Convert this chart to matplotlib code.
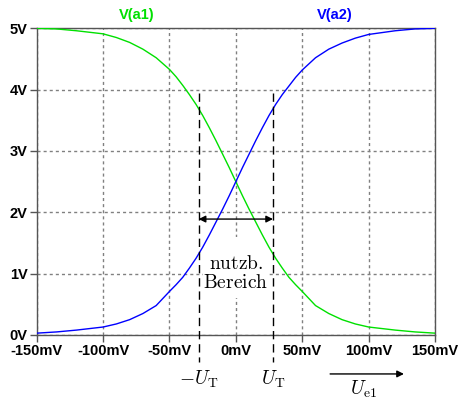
import matplotlib.pyplot as plt
import numpy as np

plt.rcParams['mathtext.fontset'] = 'cm'
plt.rcParams['lines.scale_dashes'] = False

# input voltage (mV) and the two output voltages (V)
u_e1 = [-150, -135, -120, -100, -90, -80, -70, -60, -50, -45, -40, -35, -30, -25,
        -20, -15, -10, -5, 0, 5, 10, 15, 20, 25, 30, 35, 40, 45, 50, 60, 70, 80,
        90, 100, 120, 135, 150]
v_a1 = [5.00, 4.99, 4.96, 4.91, 4.85, 4.77, 4.66, 4.52, 4.33, 4.21, 4.07, 3.92, 3.76, 3.58,
        3.38, 3.17, 2.95, 2.73, 2.50, 2.27, 2.05, 1.84, 1.63, 1.43, 1.25, 1.09, 0.94, 0.82,
        0.71, 0.48, 0.35, 0.25, 0.18, 0.13, 0.08, 0.05, 0.03]
v_a2 = [0.03, 0.05, 0.08, 0.13, 0.18, 0.25, 0.35, 0.48, 0.71, 0.82, 0.94, 1.09, 1.25, 1.43,
        1.63, 1.84, 2.05, 2.27, 2.50, 2.73, 2.95, 3.17, 3.38, 3.58, 3.76, 3.92, 4.06, 4.20,
        4.32, 4.52, 4.66, 4.76, 4.84, 4.90, 4.96, 4.99, 5.00]

x_ticks = [-150, -100, -50, 0, 50, 100, 150]
x_labels = ['-150mV', '-100mV', '-50mV', '0mV', '50mV', '100mV', '150mV']
y_ticks = [0, 1, 2, 3, 4, 5]
y_labels = ['0V', '1V', '2V', '3V', '4V', '5V']

u_t = 28  # mV, edge of the useful range

fig = plt.figure(figsize=(4.62, 4.01), dpi=100)
ax = fig.add_axes([0.0794, 0.1646, 0.8622, 0.7648])

ax.plot(u_e1, v_a1, color='#00e000', lw=1, zorder=3)
ax.plot(u_e1, v_a2, color='#0000ff', lw=1, zorder=3)

ax.set_xlim(-150, 150)
ax.set_ylim(0, 5)
ax.set_xticks(x_ticks, x_labels)
ax.set_yticks(y_ticks, y_labels)
ax.grid(True, color='#808080', lw=1, linestyle=(0, (2.2, 2.2)))
ax.tick_params(direction='out', length=5, width=1, color='#555555', pad=1.5)
for lab in ax.get_xticklabels() + ax.get_yticklabels():
    lab.set_family('Liberation Sans')
    lab.set_fontweight('bold')
    lab.set_fontsize(10.5)
for sp in ax.spines.values():
    sp.set_color('#555555')
    sp.set_linewidth(1)

ax.text(-75, 5.21, 'V(a1)', color='#00e000', ha='center', va='center',
        family='Liberation Sans', fontweight='bold', fontsize=10.5)
ax.text(74.5, 5.21, 'V(a2)', color='#0000ff', ha='center', va='center',
        family='Liberation Sans', fontweight='bold', fontsize=10.5)

# dashed markers at -U_T and U_T
for xv in (-u_t, u_t):
    ax.plot([xv, xv], [3.94, -0.44], color='black', lw=1,
            linestyle=(0, (6, 3.5)), clip_on=False, zorder=4)

ax.annotate('', xy=(-u_t, 1.89), xytext=(u_t, 1.89),
            arrowprops=dict(arrowstyle='<|-|>', color='black', lw=1,
                            mutation_scale=10, shrinkA=0, shrinkB=0), zorder=5)

ax.add_patch(plt.Rectangle((-25, 0.6), 50, 1.0, facecolor='white',
                           edgecolor='none', zorder=2))
ax.text(0, 1.17, r'$\mathrm{nutzb.}$', ha='center', va='center', fontsize=14, zorder=5)
ax.text(0, 0.85, r'$\mathrm{Bereich}$', ha='center', va='center', fontsize=14, zorder=5)

ax.text(-u_t, -0.814, r'$-U_\mathrm{T}$', ha='center', va='baseline', fontsize=14,
        clip_on=False)
ax.text(u_t, -0.814, r'$U_\mathrm{T}$', ha='center', va='baseline', fontsize=14,
        clip_on=False)
ax.annotate('', xy=(126.6, -0.635), xytext=(71, -0.635), annotation_clip=False,
            arrowprops=dict(arrowstyle='-|>', color='black', lw=1,
                            mutation_scale=10, shrinkA=0, shrinkB=0))
ax.text(96, -0.97, r'$U_\mathrm{e1}$', ha='center', va='baseline', fontsize=14,
        clip_on=False)

fig.savefig('out.png', dpi=100)
